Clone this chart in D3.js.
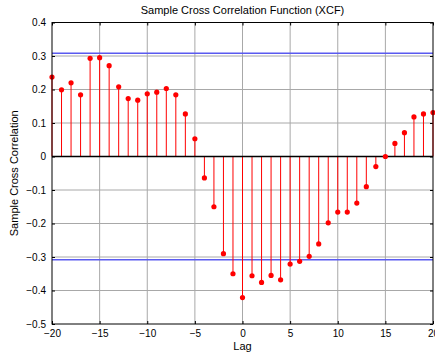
<!DOCTYPE html>
<html>
<head>
<meta charset="utf-8">
<script src="https://cdn.jsdelivr.net/npm/d3@7"></script>
<style>
  body { margin: 0; background: #fff; }
  svg { display: block; font-family: "Liberation Sans", Arial, sans-serif; }
</style>
</head>
<body>
<script>
// lags and sample cross correlation values
const lags = d3.range(-20, 21);
const xcf = [
  0.237, 0.199, 0.220, 0.184, 0.293, 0.295, 0.271, 0.208, 0.173, 0.168,
  0.187, 0.192, 0.203, 0.184, 0.127, 0.053, -0.064, -0.150, -0.290, -0.350,
  -0.421, -0.356, -0.376, -0.355, -0.368, -0.321, -0.313, -0.298, -0.261, -0.198,
  -0.166, -0.166, -0.139, -0.090, -0.030, 0.000, 0.039, 0.071, 0.118, 0.127, 0.131
];
const bounds = [0.308, -0.308];
const xTicks = [-20, -15, -10, -5, 0, 5, 10, 15, 20];
const yTicks = [0.4, 0.3, 0.2, 0.1, 0, -0.1, -0.2, -0.3, -0.4, -0.5];

const svgWidth = 435, svgHeight = 358;
const margin = { top: 22.5, right: 2, bottom: 34, left: 52 };

const svg = d3.select("body").append("svg")
  .attr("width", svgWidth)
  .attr("height", svgHeight);

const x = d3.scaleLinear().domain([-20, 20]).range([margin.left, svgWidth - margin.right]);
const y = d3.scaleLinear().domain([-0.5, 0.4]).range([svgHeight - margin.bottom, margin.top]);

const fmt = d => d === 0 ? "0" : d3.format(".1f")(d);

// grid
svg.append("g")
  .selectAll("line").data(xTicks.slice(1, -1)).enter().append("line")
  .attr("x1", d => x(d)).attr("x2", d => x(d))
  .attr("y1", y(0.4)).attr("y2", y(-0.5))
  .attr("stroke", "#a8a8a8").attr("stroke-width", 1);
svg.append("g")
  .selectAll("line").data(yTicks.slice(1, -1)).enter().append("line")
  .attr("x1", x(-20)).attr("x2", x(20))
  .attr("y1", d => y(d)).attr("y2", d => y(d))
  .attr("stroke", "#a8a8a8").attr("stroke-width", 1);

// axes (ticks inside like MATLAB)
svg.append("g")
  .attr("transform", `translate(0,${y(-0.5)})`)
  .call(d3.axisBottom(x).tickValues(xTicks).tickSizeInner(-3).tickSizeOuter(0).tickPadding(6).tickFormat(d3.format("d")))
  .call(g => g.select(".domain").remove())
  .call(g => g.selectAll("text").attr("font-size", 10).attr("fill", "#000").attr("font-family", "Liberation Sans, Arial, sans-serif"));

svg.append("g")
  .attr("transform", `translate(${x(-20)},0)`)
  .call(d3.axisLeft(y).tickValues(yTicks).tickSizeInner(-3).tickSizeOuter(0).tickPadding(6).tickFormat(fmt))
  .call(g => g.select(".domain").remove())
  .call(g => g.selectAll("text").attr("font-size", 10).attr("fill", "#000").attr("font-family", "Liberation Sans, Arial, sans-serif"));

svg.append("g")
  .attr("transform", `translate(0,${y(0.4)})`)
  .call(d3.axisTop(x).tickValues(xTicks).tickSizeInner(-3).tickSizeOuter(0).tickFormat(""))
  .call(g => g.select(".domain").remove());

svg.append("g")
  .attr("transform", `translate(${x(20)},0)`)
  .call(d3.axisRight(y).tickValues(yTicks).tickSizeInner(-3).tickSizeOuter(0).tickFormat(""))
  .call(g => g.select(".domain").remove());

// confidence bounds
svg.append("g")
  .selectAll("line").data(bounds).enter().append("line")
  .attr("x1", x(-20)).attr("x2", x(20))
  .attr("y1", d => y(d)).attr("y2", d => y(d))
  .attr("stroke", "#5a5af0").attr("stroke-width", 1.5);

// stems
const data = lags.map((l, i) => ({ lag: l, v: xcf[i] }));
svg.append("g")
  .selectAll("line").data(data).enter().append("line")
  .attr("x1", d => x(d.lag)).attr("x2", d => x(d.lag))
  .attr("y1", y(0)).attr("y2", d => y(d.v))
  .attr("stroke", "#ff0000").attr("stroke-width", 1);

// zero line
svg.append("line")
  .attr("x1", x(-20)).attr("x2", x(20))
  .attr("y1", y(0)).attr("y2", y(0))
  .attr("stroke", "#000").attr("stroke-width", 1.5);

svg.append("g")
  .selectAll("circle").data(data).enter().append("circle")
  .attr("cx", d => x(d.lag)).attr("cy", d => y(d.v))
  .attr("r", 2.6)
  .attr("fill", "#ff0000");

// box
svg.append("rect")
  .attr("x", x(-20)).attr("y", y(0.4))
  .attr("width", x(20) - x(-20)).attr("height", y(-0.5) - y(0.4))
  .attr("fill", "none").attr("stroke", "#000").attr("stroke-width", 1);

// labels
svg.append("text")
  .attr("x", (x(-20) + x(20)) / 2).attr("y", 14)
  .attr("text-anchor", "middle").attr("font-size", 11)
  .text("Sample Cross Correlation Function (XCF)");

svg.append("text")
  .attr("x", (x(-20) + x(20)) / 2).attr("y", 350)
  .attr("text-anchor", "middle").attr("font-size", 11)
  .text("Lag");

svg.append("text")
  .attr("transform", `translate(18,${(y(0.4) + y(-0.5)) / 2}) rotate(-90)`)
  .attr("text-anchor", "middle").attr("font-size", 11)
  .text("Sample Cross Correlation");
</script>
</body>
</html>
